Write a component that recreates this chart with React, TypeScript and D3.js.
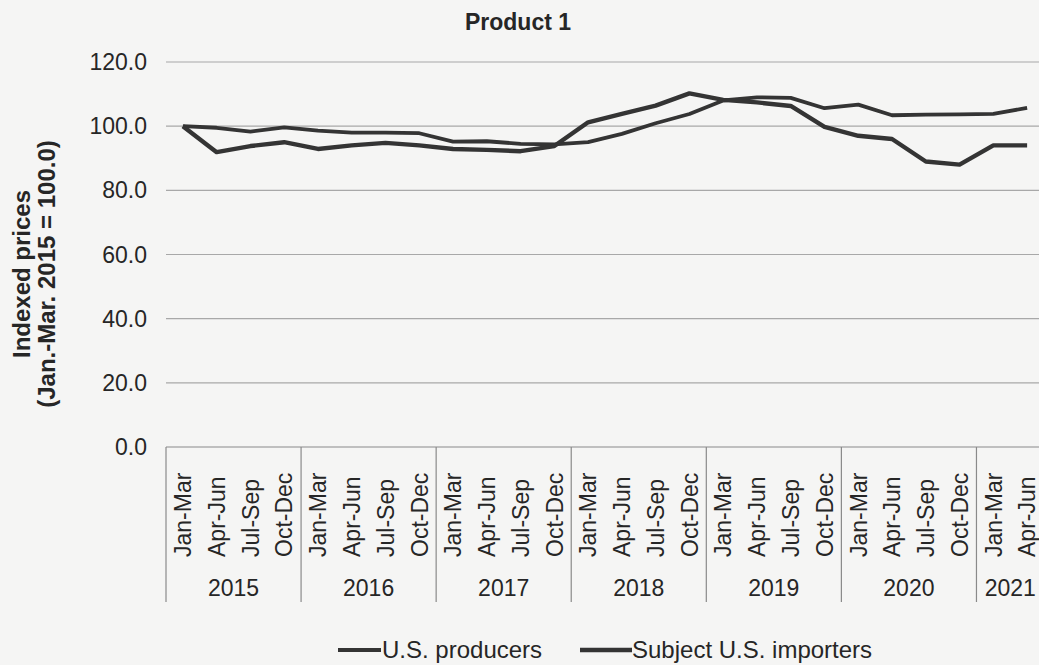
import React from "react";
import * as d3 from "d3";

// Quarter labels and the year groups they belong to
const quarters = ["Jan-Mar", "Apr-Jun", "Jul-Sep", "Oct-Dec"];
const years = ["2015", "2016", "2017", "2018", "2019", "2020", "2021"];
const quartersPerYear = [4, 4, 4, 4, 4, 4, 2];

// Indexed prices (Jan.-Mar. 2015 = 100.0)
const producers = [
  100.0, 99.5, 98.3, 99.6, 98.6, 98.0, 98.0, 97.8, 95.2, 95.3, 94.5, 94.3, 95.0,
  97.6, 100.9, 103.8, 108.0, 109.0, 108.8, 105.6, 106.7, 103.4, 103.6, 103.7,
  103.8, 105.7,
];
const importers = [
  100.0, 91.9, 93.8, 95.0, 92.9, 94.0, 94.8, 94.0, 92.9, 92.6, 92.2, 93.8, 101.2,
  103.8, 106.4, 110.2, 108.2, 107.4, 106.3, 99.8, 97.0, 96.0, 89.0, 88.0, 94.0,
  94.0,
];

const yTicks = [0, 20, 40, 60, 80, 100, 120];

const W = 1039;
const H = 665;
const FONT = "Arial, 'Liberation Sans', Helvetica, sans-serif";
const TEXT = "#262626";
const LINE = "#343434";
const FS = 23;

export default function App() {
  // Flattened category keys, one per quarter
  const cats: { q: string; y: string; key: string }[] = [];
  years.forEach((yr, i) => {
    for (let k = 0; k < quartersPerYear[i]; k++) {
      cats.push({ q: quarters[k], y: yr, key: `${yr}-${quarters[k]}` });
    }
  });

  const left = 166;
  const right = 1044;
  const x = d3
    .scalePoint<string>()
    .domain(cats.map((c) => c.key))
    .range([left, right])
    .padding(0.5);
  const step = x.step();

  const y = d3.scaleLinear().domain([0, 120]).range([447, 62]);

  const line = d3
    .line<number>()
    .x((_, i) => x(cats[i].key) as number)
    .y((d) => y(d));

  // Year group boundaries
  const bounds: number[] = [left];
  let acc = 0;
  quartersPerYear.forEach((n) => {
    acc += n;
    bounds.push(left + acc * step);
  });

  return (
    <svg
      width={W}
      height={H}
      style={{ position: "absolute", left: 0, top: 0, background: "#f5f5f4" }}
      fontFamily={FONT}
    >
      <rect width={W} height={H} fill="#f5f5f4" />
      <text
        x={518}
        y={30}
        textAnchor="middle"
        fontSize={FS}
        fontWeight="bold"
        fill={TEXT}
      >
        Product 1
      </text>

      {/* gridlines and y tick labels */}
      {yTicks.map((t) => (
        <g key={t}>
          <line
            x1={left}
            x2={W}
            y1={y(t)}
            y2={y(t)}
            stroke={t === 0 ? "#8a8a8a" : "#a8a8a8"}
            strokeWidth={1.2}
          />
          <text
            x={147}
            y={y(t)}
            dy="0.35em"
            textAnchor="end"
            fontSize={FS}
            fill={TEXT}
          >
            {t.toFixed(1)}
          </text>
        </g>
      ))}

      {/* y axis title */}
      <g transform="translate(22,274) rotate(-90)">
        <text textAnchor="middle" fontSize={24} fontWeight="bold" fill={TEXT} dy="0.35em">
          Indexed prices
        </text>
        <text
          textAnchor="middle"
          fontSize={24}
          fontWeight="bold"
          fill={TEXT}
          y={25}
          dy="0.35em"
        >
          (Jan.-Mar. 2015 = 100.0)
        </text>
      </g>

      {/* year separators */}
      {bounds.map((b, i) => (
        <line
          key={i}
          x1={b}
          x2={b}
          y1={447}
          y2={602}
          stroke="#8a8a8a"
          strokeWidth={1.2}
        />
      ))}

      {/* quarter labels */}
      {cats.map((c) => (
        <text
          key={c.key}
          transform={`translate(${x(c.key)},557) rotate(-90)`}
          dy="0.36em"
          textAnchor="start"
          fontSize={FS}
          fill={TEXT}
        >
          {c.q}
        </text>
      ))}

      {/* year labels */}
      {years.map((yr, i) => (
        <text
          key={yr}
          x={(bounds[i] + bounds[i + 1]) / 2}
          y={588}
          dy="0.35em"
          textAnchor="middle"
          fontSize={FS}
          fill={TEXT}
        >
          {yr}
        </text>
      ))}

      {/* series */}
      <path
        d={line(producers) ?? ""}
        fill="none"
        stroke={LINE}
        strokeWidth={3.8}
        strokeLinejoin="round"
      />
      <path
        d={line(importers) ?? ""}
        fill="none"
        stroke={LINE}
        strokeWidth={4.4}
        strokeLinejoin="round"
      />

      {/* legend */}
      <g fontSize={24} fill={TEXT}>
        <line x1={338} x2={381} y1={650} y2={650} stroke={LINE} strokeWidth={3.8} />
        <text x={382} y={650} dy="0.35em">
          U.S. producers
        </text>
        <line x1={580} x2={632} y1={650} y2={650} stroke={LINE} strokeWidth={4.4} />
        <text x={632} y={650} dy="0.35em">
          Subject U.S. importers
        </text>
      </g>
    </svg>
  );
}
